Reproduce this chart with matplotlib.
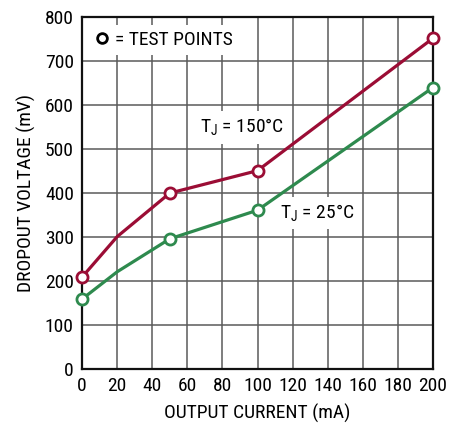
"""Dropout voltage vs output current chart."""

import matplotlib
matplotlib.use("Agg")
import matplotlib.pyplot as plt
from matplotlib import font_manager
from matplotlib.lines import Line2D

# data
current_ma = [0, 20, 50, 100, 200]
dropout_150c = [209, 301, 400, 451, 752]
dropout_25c = [159, 221, 296, 361, 640]
test_idx = [0, 2, 3, 4]  # points drawn with open circles

x_ticks = list(range(0, 201, 20))
y_ticks = list(range(0, 801, 100))

RED = "#9B0D35"
GREEN = "#2E8A4E"
GRID = "#5a5a5a"

# narrow sans if there is one, else Arial-like
installed = {f.name for f in font_manager.fontManager.ttflist}
narrow = [n for n in ["Liberation Sans Narrow", "Roboto Condensed", "Arial Narrow"] if n in installed]
FAMILY = narrow[0] if narrow else "Liberation Sans"

plt.rcParams.update({
    "font.family": [FAMILY, "DejaVu Sans"],
    "font.size": 13,
})
SIZE = 14 if narrow else 12.5

fig = plt.figure(figsize=(4.64, 4.30), dpi=100)
ax = fig.add_axes([0.177, 0.142, 0.756, 0.818])

for ys, col in [(dropout_150c, RED), (dropout_25c, GREEN)]:
    ax.plot(current_ma, ys, color=col, linewidth=2.3, zorder=3)
    ax.plot([current_ma[i] for i in test_idx], [ys[i] for i in test_idx],
            linestyle="none", marker="o", markersize=8, markerfacecolor="white",
            markeredgecolor=col, markeredgewidth=2, zorder=4, clip_on=False)

ax.set_xlim(0, 200)
ax.set_ylim(0, 800)
ax.set_xticks(x_ticks)
ax.set_yticks(y_ticks)
ax.tick_params(length=0, labelsize=SIZE, pad=6)
ax.grid(True, color=GRID, linewidth=1.1)
ax.set_axisbelow(True)
for s in ax.spines.values():
    s.set_linewidth(1.6)
    s.set_color("#111111")

ax.set_xlabel("OUTPUT CURRENT (mA)", fontsize=SIZE, labelpad=6)
ax.set_ylabel("DROPOUT VOLTAGE (mV)", fontsize=SIZE, labelpad=6)

box = dict(facecolor="white", edgecolor="none", pad=4)
ax.text(91, 549, "T$_\\mathregular{J}$ = 150°C", fontsize=SIZE,
        ha="center", va="center", bbox=box, zorder=2)
ax.text(134, 355, "T$_\\mathregular{J}$ = 25°C", fontsize=SIZE,
        ha="center", va="center", bbox=box, zorder=2)

handle = Line2D([], [], linestyle="none", marker="o", markersize=7,
                markerfacecolor="white", markeredgecolor="black", markeredgewidth=2)
leg = ax.legend([handle], ["= TEST POINTS"], loc="upper left",
                bbox_to_anchor=(0.0, 1.0), frameon=True, fancybox=False,
                handlelength=0.6, handletextpad=0.4, borderpad=0.3,
                fontsize=SIZE, borderaxespad=0.4)
leg.get_frame().set_edgecolor("none")
leg.get_frame().set_facecolor("white")
leg.get_frame().set_alpha(1)

fig.savefig("out.png", dpi=100)
